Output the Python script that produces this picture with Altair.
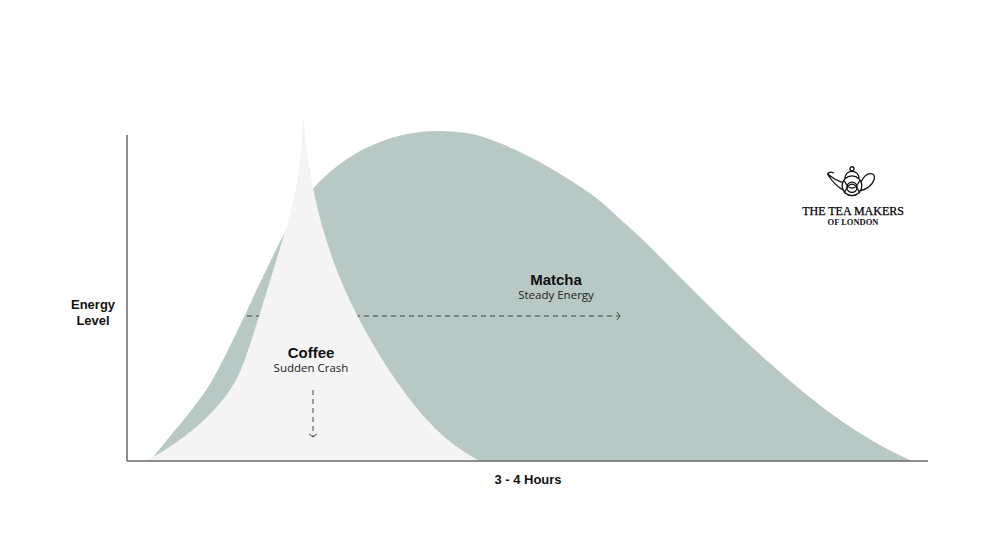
import altair as alt
import pandas as pd

# ---- data (time in arbitrary units 0-100, energy level 0-100) ----
matcha_t = [2.87, 4.99, 7.87, 10.36, 12.61, 14.61, 16.35, 17.98, 19.60, 21.10, 23.10, 25.34,
            27.47, 31.59, 35.71, 38.70, 42.45, 46.19, 50.31, 54.68, 59.05, 61.55, 64.04,
            68.16, 72.41, 76.53, 80.65, 84.89, 89.01, 93.13, 95.88, 98.00]
matcha_e = [0.0, 6.44, 15.03, 23.62, 34.05, 44.17, 53.37, 61.66, 69.63, 76.07, 83.13, 88.65,
            92.64, 97.85, 100.61, 101.23, 100.61, 97.85, 93.25, 87.12, 79.75, 74.23, 68.71,
            58.59, 48.16, 38.34, 29.14, 20.25, 12.58, 6.13, 2.45, 0.0]

coffee_t = [2.37, 4.74, 7.24, 9.74, 11.61, 12.86, 13.86, 14.86, 15.86, 16.85, 17.85, 18.85,
            19.85, 20.60, 21.22, 21.60, 21.85, 21.97, 22.35, 22.85, 23.47, 24.22, 25.09,
            26.09, 27.34, 28.71, 30.34, 32.21, 34.08, 36.58, 39.08, 41.57, 44.07]
coffee_e = [0.0, 3.37, 7.67, 12.88, 17.79, 21.78, 26.07, 32.21, 39.57, 47.24, 55.21, 63.19,
            71.47, 78.22, 85.58, 92.33, 98.47, 105.21, 96.93, 88.65, 80.98, 73.31, 66.26,
            59.20, 51.84, 44.79, 37.42, 29.75, 23.01, 15.03, 8.59, 3.68, 0.0]

# annotation arrows: start / end
arrow_names = ["matcha", "coffee"]
arrow_x = [14.98, 23.22]
arrow_x2 = [61.55, 23.22]
arrow_y = [44.48, 21.78]
arrow_y2 = [44.48, 7.36]

# labels
label_text = ["Matcha", "Steady Energy", "Coffee", "Sudden Crash"]
label_x = [53.56, 53.56, 22.97, 22.97]
label_y = [55.52, 50.61, 33.13, 28.22]
label_bold = [True, False, True, False]

axis_title_text = ["Energy", "Level", "3 - 4 Hours"]
axis_title_x = [-4.24, -4.24, 50.06]
axis_title_y = [47.85, 42.94, -5.83]

logo_text = ["THE TEA MAKERS", "OF LONDON"]
logo_x = [90.64, 90.64]
logo_y = [76.8, 73.3]
logo_icon_x = [90.51]
logo_icon_y = [85.9]

X_DOMAIN = [0, 100]
Y_DOMAIN = [0, 108]

MATCHA = "#b7c8c5"
COFFEE = "#f4f4f4"
AXIS = "#6a6a6a"
INK = "#444444"

xs = alt.Scale(domain=X_DOMAIN, nice=False, zero=False)
ys = alt.Scale(domain=Y_DOMAIN, nice=False, zero=False)


def X(field="t"):
    return alt.X(f"{field}:Q", scale=xs, axis=None)


def Y(field="e"):
    return alt.Y(f"{field}:Q", scale=ys, axis=None)


matcha_df = pd.DataFrame({"t": matcha_t, "e": matcha_e})
coffee_df = pd.DataFrame({"t": coffee_t, "e": coffee_e})
arrows_df = pd.DataFrame({"name": arrow_names, "x": arrow_x, "x2": arrow_x2,
                          "y": arrow_y, "y2": arrow_y2})
labels_df = pd.DataFrame({"text": label_text, "x": label_x, "y": label_y, "bold": label_bold})
axis_df = pd.DataFrame({"text": axis_title_text, "x": axis_title_x, "y": axis_title_y})

matcha = alt.Chart(matcha_df).mark_area(color=MATCHA, interpolate="monotone").encode(x=X(), y=Y())
coffee = alt.Chart(coffee_df).mark_area(color=COFFEE, interpolate="monotone").encode(x=X(), y=Y())

matcha_arrow_df = arrows_df[arrows_df.name == "matcha"]
coffee_arrow_df = arrows_df[arrows_df.name == "coffee"]


def arrow_line(df):
    return alt.Chart(df).mark_rule(color=INK, strokeWidth=1, strokeDash=[5, 4]).encode(
        x=X("x"), x2="x2:Q", y=Y("y"), y2="y2:Q")


RIGHT_HEAD = "M-1,-1.3L0,0L-1,1.3"
DOWN_HEAD = "M-1.3,-1L0,0L1.3,-1"

matcha_head = alt.Chart(matcha_arrow_df).mark_point(
    shape=RIGHT_HEAD, size=36, filled=False, stroke=INK, strokeWidth=1, opacity=1
).encode(x=X("x2"), y=Y("y2"))
coffee_head = alt.Chart(coffee_arrow_df).mark_point(
    shape=DOWN_HEAD, size=36, filled=False, stroke=INK, strokeWidth=1, opacity=1
).encode(x=X("x2"), y=Y("y2"))

bold_labels = alt.Chart(labels_df[labels_df.bold]).mark_text(
    font="Liberation Sans", fontSize=15, fontWeight="bold", color="#111111", baseline="middle"
).encode(x=X("x"), y=Y("y"), text="text:N")
plain_labels = alt.Chart(labels_df[~labels_df.bold]).mark_text(
    font="Open Sans", fontSize=11.5, color="#222222", baseline="middle"
).encode(x=X("x"), y=Y("y"), text="text:N")

axis_titles = alt.Chart(axis_df).mark_text(
    font="Liberation Sans", fontSize=13, fontWeight="bold", color="#111111", baseline="middle"
).encode(x=X("x"), y=Y("y"), text="text:N")

# axis lines
axis_lines_df = pd.DataFrame({"x": [0, 0], "x2": [0, 100], "y": [0, 0], "y2": [100, 0]})
axis_lines = alt.Chart(axis_lines_df).mark_rule(color=AXIS, strokeWidth=1.5).encode(
    x=X("x"), x2="x2:Q", y=Y("y"), y2="y2:Q")

# logo
logo_df = pd.DataFrame({"text": logo_text, "x": logo_x, "y": logo_y})
logo_main = alt.Chart(logo_df.iloc[[0]]).mark_text(
    font="Liberation Serif", fontSize=12, color="#000000", baseline="middle",
    stroke="#000000", strokeWidth=0.25
).encode(x=X("x"), y=Y("y"), text="text:N")
logo_sub = alt.Chart(logo_df.iloc[[1]]).mark_text(
    font="Liberation Serif", fontSize=8.5, fontWeight="bold", color="#111111", baseline="middle"
).encode(x=X("x"), y=Y("y"), text="text:N")

TEAPOT = (
    "M-0.38,0.18 A0.38,0.38 0 1,0 0.38,0.18 A0.38,0.38 0 1,0 -0.38,0.18 Z "
    "M-0.2,0.24 A0.2,0.2 0 1,0 0.2,0.24 A0.2,0.2 0 1,0 -0.2,0.24 Z "
    "M-0.32,-0.05 C-0.1,0.38 0.1,0.38 0.32,-0.05 "
    "M-0.3,0.47 C-0.1,0.0 0.1,0.0 0.3,0.47 "
    "M-0.28,-0.1 C-0.22,-0.46 0.22,-0.46 0.28,-0.1 "
    "M-0.08,-0.47 A0.08,0.08 0 1,0 0.08,-0.47 A0.08,0.08 0 1,0 -0.08,-0.47 Z "
    "M-0.36,0.05 C-0.55,0.02 -0.72,-0.1 -0.95,-0.28 "
    "M-0.32,0.36 C-0.6,0.2 -0.78,0.0 -0.95,-0.28 "
    "M-0.95,-0.28 C-0.85,-0.38 -0.75,-0.35 -0.7,-0.3 "
    "M0.36,0.02 C0.55,-0.4 0.95,-0.35 0.85,-0.05 C0.78,0.15 0.6,0.3 0.32,0.38"
)
icon_df = pd.DataFrame({"x": logo_icon_x, "y": logo_icon_y})
logo_icon = alt.Chart(icon_df).mark_point(
    shape=TEAPOT, size=2700, filled=False, stroke="#111111", strokeWidth=1.3, opacity=1
).encode(x=X("x"), y=Y("y"))

chart = alt.layer(
    matcha, arrow_line(matcha_arrow_df), matcha_head, coffee, arrow_line(coffee_arrow_df),
    coffee_head, axis_lines, bold_labels, plain_labels, axis_titles, logo_icon, logo_main, logo_sub
).properties(
    width=801, height=352,
    autosize=alt.AutoSizeParams(type="none"),
    padding={"left": 119, "top": 101, "right": 64, "bottom": 81},
    background="white",
).configure_view(stroke=None)

chart.save("out.html", embed_options={"renderer": "svg", "actions": False})
